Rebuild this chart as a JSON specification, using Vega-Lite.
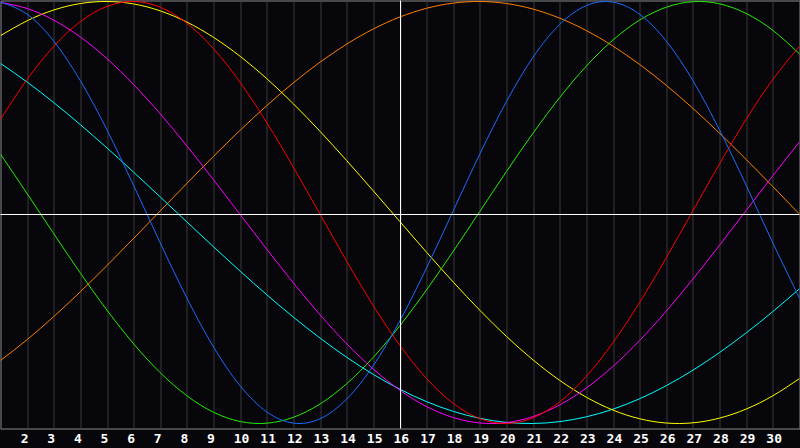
{
  "$schema": "https://vega.github.io/schema/vega-lite/v6.json",
  "width": 799,
  "height": 428,
  "autosize": {"type": "none"},
  "padding": {"left": 0.5, "top": 0.5, "right": 0, "bottom": 19.5},
  "background": "#07060b",
  "config": {
    "view": {"stroke": "#8a8a8a", "strokeWidth": 1, "fill": "#07060b"},
    "axisX": {
      "grid": true, "gridColor": "#3a3a3a", "gridWidth": 1, "gridOpacity": 1,
      "ticks": false, "domain": false, "title": null,
      "labelColor": "#ffffff", "labelFont": "DejaVu Sans Mono", "labelFontWeight": "bold", "labelFontSize": 13,
      "labelPadding": 4, "labelFlush": false, "labelOverlap": false, "labelSeparation": 0
    }
  },
  "layer": [
    {
      "data": {"values": [
        {"day": 1, "physical": 0.9971, "emotional": 0.4420, "intellectual": 0.2763, "intuitive": 0.9957, "aesthetic": 0.8381, "awareness": -0.7015, "spiritual": 0.7067},
        {"day": 2, "physical": 0.9394, "emotional": 0.6306, "intellectual": 0.0894, "intuitive": 0.9669, "aesthetic": 0.9085, "awareness": -0.6026, "spiritual": 0.6181},
        {"day": 3, "physical": 0.8121, "emotional": 0.7875, "intellectual": -0.1007, "intuitive": 0.9117, "aesthetic": 0.9597, "awareness": -0.4932, "spiritual": 0.5207},
        {"day": 4, "physical": 0.6244, "emotional": 0.9048, "intellectual": -0.2872, "intuitive": 0.8316, "aesthetic": 0.9904, "awareness": -0.3754, "spiritual": 0.4161},
        {"day": 5, "physical": 0.3906, "emotional": 0.9769, "intellectual": -0.4633, "intuitive": 0.7290, "aesthetic": 1.0000, "awareness": -0.2512, "spiritual": 0.3057},
        {"day": 6, "physical": 0.1278, "emotional": 1.0000, "intellectual": -0.6227, "intuitive": 0.6063, "aesthetic": 0.9883, "awareness": -0.1227, "spiritual": 0.1910},
        {"day": 7, "physical": -0.1445, "emotional": 0.9729, "intellectual": -0.7595, "intuitive": 0.4672, "aesthetic": 0.9555, "awareness": 0.0079, "spiritual": 0.0734},
        {"day": 8, "physical": -0.4061, "emotional": 0.8970, "intellectual": -0.8687, "intuitive": 0.3152, "aesthetic": 0.9024, "awareness": 0.1383, "spiritual": -0.0450},
        {"day": 9, "physical": -0.6377, "emotional": 0.7762, "intellectual": -0.9468, "intuitive": 0.1547, "aesthetic": 0.8299, "awareness": 0.2664, "spiritual": -0.1628},
        {"day": 10, "physical": -0.8218, "emotional": 0.6164, "intellectual": -0.9906, "intuitive": -0.0099, "aesthetic": 0.7399, "awareness": 0.3899, "spiritual": -0.2783},
        {"day": 11, "physical": -0.9451, "emotional": 0.4258, "intellectual": -0.9986, "intuitive": -0.1745, "aesthetic": 0.6340, "awareness": 0.5068, "spiritual": -0.3900},
        {"day": 12, "physical": -0.9982, "emotional": 0.2137, "intellectual": -0.9705, "intuitive": -0.3341, "aesthetic": 0.5147, "awareness": 0.6150, "spiritual": -0.4962},
        {"day": 13, "physical": -0.9773, "emotional": -0.0089, "intellectual": -0.9073, "intuitive": -0.4848, "aesthetic": 0.3843, "awareness": 0.7127, "spiritual": -0.5953},
        {"day": 14, "physical": -0.8839, "emotional": -0.2312, "intellectual": -0.8113, "intuitive": -0.6222, "aesthetic": 0.2458, "awareness": 0.7981, "spiritual": -0.6862},
        {"day": 15, "physical": -0.7251, "emotional": -0.4420, "intellectual": -0.6859, "intuitive": -0.7423, "aesthetic": 0.1021, "awareness": 0.8699, "spiritual": -0.7676},
        {"day": 16, "physical": -0.5123, "emotional": -0.6306, "intellectual": -0.5358, "intuitive": -0.8427, "aesthetic": -0.0438, "awareness": 0.9268, "spiritual": -0.8379},
        {"day": 17, "physical": -0.2617, "emotional": -0.7875, "intellectual": -0.3663, "intuitive": -0.9198, "aesthetic": -0.1888, "awareness": 0.9679, "spiritual": -0.8966},
        {"day": 18, "physical": 0.0084, "emotional": -0.9048, "intellectual": -0.1838, "intuitive": -0.9718, "aesthetic": -0.3298, "awareness": 0.9924, "spiritual": -0.9426},
        {"day": 19, "physical": 0.2780, "emotional": -0.9769, "intellectual": 0.0056, "intuitive": -0.9974, "aesthetic": -0.4638, "awareness": 1.0000, "spiritual": -0.9755},
        {"day": 20, "physical": 0.5268, "emotional": -1.0000, "intellectual": 0.1948, "intuitive": -0.9957, "aesthetic": -0.5878, "awareness": 0.9904, "spiritual": -0.9947},
        {"day": 21, "physical": 0.7365, "emotional": -0.9729, "intellectual": 0.3769, "intuitive": -0.9669, "aesthetic": -0.6992, "awareness": 0.9639, "spiritual": -0.9999},
        {"day": 22, "physical": 0.8917, "emotional": -0.8970, "intellectual": 0.5454, "intuitive": -0.9117, "aesthetic": -0.7958, "awareness": 0.9208, "spiritual": -0.9911},
        {"day": 23, "physical": 0.9808, "emotional": -0.7762, "intellectual": 0.6942, "intuitive": -0.8316, "aesthetic": -0.8756, "awareness": 0.8620, "spiritual": -0.9683},
        {"day": 24, "physical": 0.9971, "emotional": -0.6164, "intellectual": 0.8180, "intuitive": -0.7290, "aesthetic": -0.9366, "awareness": 0.7885, "spiritual": -0.9320},
        {"day": 25, "physical": 0.9394, "emotional": -0.4258, "intellectual": 0.9121, "intuitive": -0.6063, "aesthetic": -0.9776, "awareness": 0.7015, "spiritual": -0.8826},
        {"day": 26, "physical": 0.8121, "emotional": -0.2137, "intellectual": 0.9731, "intuitive": -0.4672, "aesthetic": -0.9978, "awareness": 0.6026, "spiritual": -0.8207},
        {"day": 27, "physical": 0.6244, "emotional": 0.0089, "intellectual": 0.9991, "intuitive": -0.3152, "aesthetic": -0.9968, "awareness": 0.4932, "spiritual": -0.7472},
        {"day": 28, "physical": 0.3906, "emotional": 0.2312, "intellectual": 0.9890, "intuitive": -0.1547, "aesthetic": -0.9744, "awareness": 0.3754, "spiritual": -0.6635},
        {"day": 29, "physical": 0.1278, "emotional": 0.4420, "intellectual": 0.9431, "intuitive": 0.0099, "aesthetic": -0.9314, "awareness": 0.2512, "spiritual": -0.5704},
        {"day": 30, "physical": -0.1445, "emotional": 0.6306, "intellectual": 0.8631, "intuitive": 0.1745, "aesthetic": -0.8685, "awareness": 0.1227, "spiritual": -0.4693},
        {"day": 31, "physical": -0.4061, "emotional": 0.7875, "intellectual": 0.7518, "intuitive": 0.3341, "aesthetic": -0.7871, "awareness": -0.0079, "spiritual": -0.3615}
      ]},
      "transform": [
        {"fold": ["awareness", "spiritual", "aesthetic", "intuitive", "emotional", "intellectual", "physical"], "as": ["series", "value"]}
      ],
      "mark": {"type": "line", "strokeWidth": 1, "interpolate": "natural", "clip": true},
      "encoding": {
        "x": {
          "field": "day", "type": "quantitative",
          "scale": {"domain": [1, 31], "nice": false, "zero": false},
          "axis": {"values": [2, 3, 4, 5, 6, 7, 8, 9, 10, 11, 12, 13, 14, 15, 16, 17, 18, 19, 20, 21, 22, 23, 24, 25, 26, 27, 28, 29, 30], "labelOverlap": false, "labelAlign": "left", "labelOffset": -7}
        },
        "y": {
          "field": "value", "type": "quantitative",
          "scale": {"domain": [-1.0237, 1.0047], "nice": false, "zero": false},
          "axis": null
        },
        "color": {
          "field": "series", "type": "nominal",
          "scale": {
            "domain": ["physical", "emotional", "intellectual", "intuitive", "aesthetic", "awareness", "spiritual"],
            "range": ["#1a6cff", "#ff0000", "#22ee00", "#ff00ff", "#ffff00", "#ff8000", "#00ffff"]
          },
          "legend": null
        }
      }
    },
    {
      "data": {"values": [{"day": 16}]},
      "mark": {"type": "rule", "color": "#ffffff", "strokeWidth": 1, "xOffset": 0.5},
      "encoding": {
        "x": {"field": "day", "type": "quantitative", "axis": {"values": [2, 3, 4, 5, 6, 7, 8, 9, 10, 11, 12, 13, 14, 15, 16, 17, 18, 19, 20, 21, 22, 23, 24, 25, 26, 27, 28, 29, 30], "labelOverlap": false, "labelAlign": "left", "labelOffset": -7}}
      }
    },
    {
      "data": {"values": [{"value": 0}]},
      "mark": {"type": "rule", "color": "#ffffff", "strokeWidth": 1, "yOffset": 2},
      "encoding": {
        "y": {"field": "value", "type": "quantitative", "axis": null}
      }
    }
  ]
}
